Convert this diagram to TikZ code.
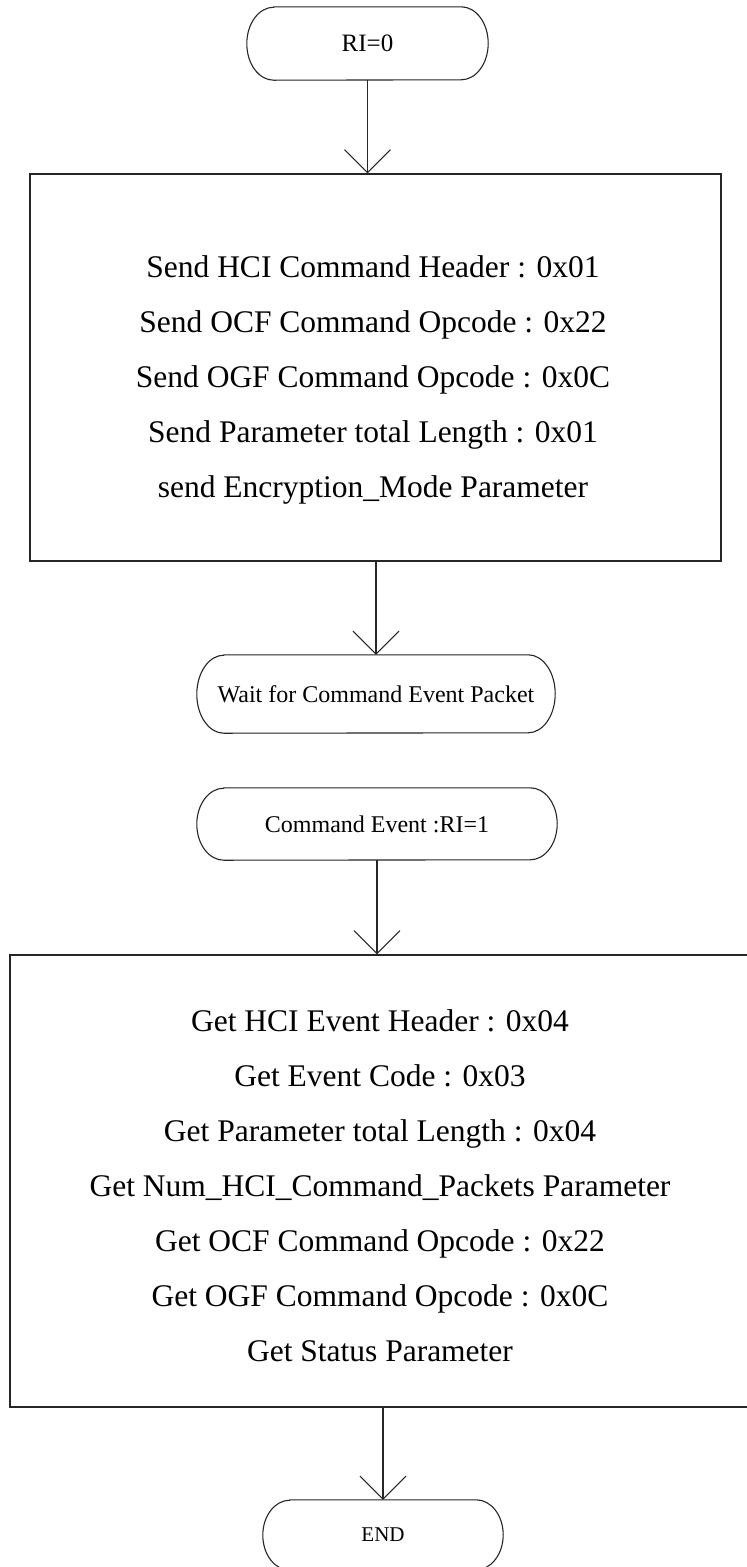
\documentclass[tikz,border=0pt]{standalone}
\usepackage{fontspec}
\setmainfont{Liberation Serif}
\usetikzlibrary{arrows.meta}

% Outline of a terminal: straight top and bottom, elliptical ends.
% #1 node name, #2 half height
\newcommand\stadiumoutline[2]{%
  \draw[outline]
    ([xshift=27pt]#1.north west) -- ([xshift=-27pt]#1.north east)
    arc[start angle=90, end angle=-90, x radius=27pt, y radius=#2]
    -- ([xshift=27pt]#1.south west)
    arc[start angle=270, end angle=90, x radius=27pt, y radius=#2]
    -- cycle;}

\tikzset{
  outline/.style={draw=black!85, line width=1.1pt},
  flow/.style={outline, -{Straight Barb[length=23pt, width=46pt, line width=1.1pt]}},
  procbox/.style={outline, inner sep=0pt},
  term/.style={inner sep=0pt},
  boxtext/.style={align=center, inner sep=0pt, font=\fontsize{31.5pt}{55pt}\selectfont},
}

\begin{document}
\begin{tikzpicture}[x=1pt, y=-1pt]
  \useasboundingbox (0,0) rectangle (747,1567);
  \clip (0,0) rectangle (747,1567);
  \fill[white] (0,0) rectangle (747,1567);

  % start terminal
  \node[term, minimum width=241pt, minimum height=73pt, font=\fontsize{25pt}{30pt}\selectfont]
    (start) at (367.5,43.5) {RI=0};
  \stadiumoutline{start}{36.5pt}

  % command sending block
  \node[procbox, minimum width=691pt, minimum height=387pt] (send) at (375.5,367.5) {};
  \node[boxtext] (sendtext) at (373,380) {%
    Send HCI Command Header : 0x01\\
    Send OCF Command Opcode : 0x22\\
    Send OGF Command Opcode : 0x0C\\
    Send Parameter total Length : 0x01\\
    send Encryption\_Mode Parameter};

  % waiting terminal
  \node[term, minimum width=358pt, minimum height=78pt, font=\fontsize{24pt}{29pt}\selectfont]
    (wait) at (376,694) {Wait for Command Event Packet};
  \stadiumoutline{wait}{39pt}

  % event terminal
  \node[term, minimum width=360pt, minimum height=72pt, font=\fontsize{24pt}{29pt}\selectfont]
    (cmdevt) at (377,824) {Command Event :RI=1};
  \stadiumoutline{cmdevt}{36pt}

  % event reading block
  \node[procbox, minimum width=750pt, minimum height=452pt] (recv) at (385,1181) {};
  \node[boxtext] (recvtext) at (380,1186) {%
    Get HCI Event Header : 0x04\\
    Get Event Code : 0x03\\
    Get Parameter total Length : 0x04\\
    Get Num\_HCI\_Command\_Packets Parameter\\
    Get OCF Command Opcode : 0x22\\
    Get OGF Command Opcode : 0x0C\\
    Get Status Parameter};

  % end terminal
  \node[term, minimum width=240pt, minimum height=70pt, font=\fontsize{21pt}{26pt}\selectfont]
    (finish) at (383,1535) {END};
  \stadiumoutline{finish}{35pt}

  % connectors
  \draw[flow] (start.south) -- (start.south |- send.north);
  \draw[flow] (send.south -| wait.north) -- (wait.north);
  \draw[flow] (cmdevt.south) -- (cmdevt.south |- recv.north);
  \draw[flow] (recv.south -| finish.north) -- (finish.north);
\end{tikzpicture}
\end{document}
